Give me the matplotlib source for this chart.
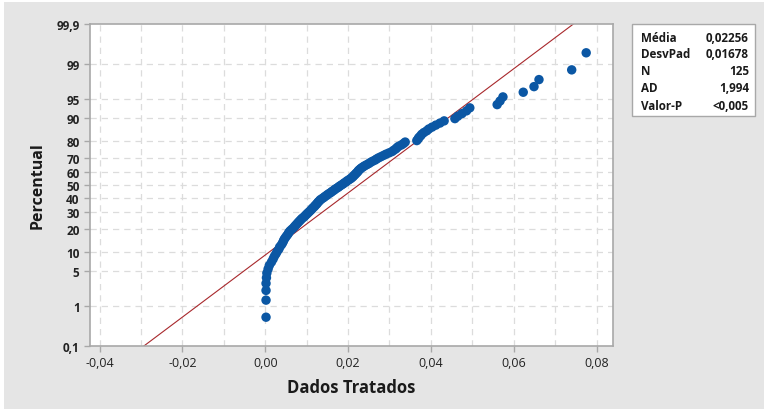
import matplotlib
matplotlib.use("Agg")
import matplotlib.pyplot as plt
import matplotlib.patches as mpatches
import numpy as np
from statistics import NormalDist

# ---- Data (sorted sample, 125 values) ----
dados = [
    0.0002, 0.0002, 0.0002, 0.0002, 0.0003, 0.0004, 0.0007, 0.0010, 0.0015, 0.0019,
    0.0022, 0.0026, 0.0029, 0.0033, 0.0035, 0.0039, 0.0042, 0.0044, 0.0046, 0.0049,
    0.0052, 0.0055, 0.0057, 0.0060, 0.0064, 0.0068, 0.0071, 0.0074, 0.0077, 0.0080,
    0.0083, 0.0086, 0.0089, 0.0093, 0.0096, 0.0099, 0.0102, 0.0105, 0.0108, 0.0111,
    0.0113, 0.0116, 0.0119, 0.0121, 0.0124, 0.0126, 0.0128, 0.0131, 0.0133, 0.0137,
    0.0141, 0.0144, 0.0148, 0.0151, 0.0155, 0.0159, 0.0162, 0.0166, 0.0169, 0.0173,
    0.0177, 0.0180, 0.0184, 0.0188, 0.0191, 0.0195, 0.0198, 0.0202, 0.0206, 0.0209,
    0.0212, 0.0214, 0.0217, 0.0219, 0.0222, 0.0224, 0.0226, 0.0229, 0.0232, 0.0236,
    0.0240, 0.0245, 0.0250, 0.0254, 0.0259, 0.0265, 0.0269, 0.0274, 0.0280, 0.0286,
    0.0292, 0.0299, 0.0306, 0.0310, 0.0315, 0.0318, 0.0322, 0.0329, 0.0334, 0.0338,
    0.0366, 0.0369, 0.0371, 0.0375, 0.0378, 0.0383, 0.0390, 0.0395, 0.0403, 0.0412,
    0.0422, 0.0432, 0.0458, 0.0465, 0.0475, 0.0486, 0.0494, 0.0560, 0.0567, 0.0574,
    0.0623, 0.0649, 0.0661, 0.0740, 0.0775,
]

# summary statistics shown in the box
media = 0.02256
desvpad = 0.01678
ad_valor = 1.994
p_valor = "<0,005"

pct_ticks = [0.1, 1, 5, 10, 20, 30, 40, 50, 60, 70, 80, 90, 95, 99, 99.9]
pct_labels = ["0,1", "1", "5", "10", "20", "30", "40", "50", "60", "70",
              "80", "90", "95", "99", "99,9"]
x_ticks = [-0.04, -0.02, 0.00, 0.02, 0.04, 0.06, 0.08]
x_grid = np.arange(-0.04, 0.0801, 0.01)

W, H = 764, 410
nd = NormalDist()


def fmt(v, d):
    return f"{v:.{d}f}".replace(".", ",")


# ---- Canvas ----
plt.rcParams["font.family"] = ["Open Sans", "DejaVu Sans"]
fig = plt.figure(figsize=(W / 100, H / 100), dpi=100, facecolor="white")
fig.add_artist(mpatches.Rectangle((4 / W, 0), 1, 1 - 3 / H, transform=fig.transFigure,
                                  facecolor="#e5e5e5", edgecolor="none", zorder=-10))

ax = fig.add_axes([90 / W, 1 - 347 / H, (612.7 - 90) / W, (347 - 25) / H])
ax.set_facecolor("white")

# ---- Probability scale (normal quantiles) ----
zlim = nd.inv_cdf(0.999)
ax.set_ylim(-zlim, zlim)
ax.set_xlim(-0.0423, 0.0839)

ax.set_yticks([nd.inv_cdf(p / 100) for p in pct_ticks])
ax.set_yticklabels(pct_labels, fontsize=8.5, fontweight="bold", color="#222222")
ax.set_xticks(x_ticks)
ax.set_xticklabels([fmt(v, 2) for v in x_ticks], fontsize=9, color="#222222")

# dashed grid
for p in pct_ticks[1:-1]:
    ax.axhline(nd.inv_cdf(p / 100), color="#dcdcdc", lw=0.9, ls=(0, (5, 4)), zorder=0)
for v in x_grid:
    ax.axvline(v, color="#dcdcdc", lw=0.9, ls=(0, (5, 4)), zorder=0)

for s in ax.spines.values():
    s.set_color("#a8a8a8")
    s.set_linewidth(1.2)
ax.tick_params(axis="both", colors="#a8a8a8", length=4, width=1, labelcolor="#222222")

# ---- Fitted normal line ----
xs = np.array(ax.get_xlim())
ax.plot(xs, (xs - media) / desvpad, color="#a8282c", lw=0.8, zorder=2)

# ---- Points (median ranks) ----
n = len(dados)
x = np.sort(dados)
ranks = (np.arange(1, n + 1) - 0.3) / (n + 0.4)
zs = [nd.inv_cdf(r) for r in ranks]
ax.scatter(x, zs, s=46, color="#0b57a4", edgecolors="none", zorder=3)

ax.set_xlabel("Dados Tratados", fontsize=12, fontweight="bold", color="#1a1a1a", labelpad=6)
ax.set_ylabel("Percentual", fontsize=11.5, fontweight="bold", color="#1a1a1a", labelpad=8)

# ---- Stats box ----
fig.add_artist(mpatches.Rectangle((632 / W, 1 - 117 / H), 123 / W, 92 / H,
                                  transform=fig.transFigure, facecolor="white",
                                  edgecolor="#a8a8a8", lw=1))
rows = [("Média", fmt(media, 5)), ("DesvPad", fmt(desvpad, 5)),
        ("N", str(n)), ("AD", fmt(ad_valor, 3)), ("Valor-P", p_valor)]
for k, (lab, val) in enumerate(rows):
    yy = 1 - (38 + k * 17) / H
    fig.text(641 / W, yy, lab, fontsize=8.4, fontweight="bold", color="#1a1a1a",
             va="center", ha="left")
    fig.text(749 / W, yy, val, fontsize=8.4, fontweight="bold", color="#1a1a1a",
             va="center", ha="right")

fig.savefig("out.png", dpi=100)
